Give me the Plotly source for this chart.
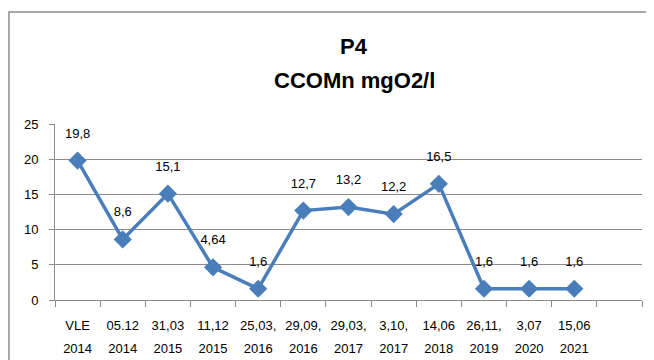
import plotly.graph_objects as go

# Sampling dates (two-line category labels) and CCOMn values, mgO2/l
date_top = ["VLE", "05.12", "31,03", "11,12", "25,03,", "29,09,", "29,03,",
            "3,10,", "14,06", "26,11,", "3,07", "15,06"]
date_year = ["2014", "2014", "2015", "2015", "2016", "2016", "2017",
             "2017", "2018", "2019", "2020", "2021"]
ccomn = [19.8, 8.6, 15.1, 4.64, 1.6, 12.7, 13.2, 12.2, 16.5, 1.6, 1.6, 1.6]
value_labels = ["19,8", "8,6", "15,1", "4,64", "1,6", "12,7", "13,2", "12,2",
                "16,5", "1,6", "1,6", "1,6"]
y_ticks = [0, 5, 10, 15, 20, 25]

BLUE = "#4A7EBB"
GRID = "#8C8C8C"
FONT = "Liberation Sans, Arial, sans-serif"

xs = list(range(len(date_top)))
# the page body has an 8px margin, so the figure is 16px smaller than the window
W, H = 646, 352


def _span(s, size=13):
    return f"<span style='font-size:{size}px'>{s}</span>"


ticktext = [_span(a) + "<br>" + _span(b) for a, b in zip(date_top, date_year)]

fig = go.Figure()
fig.add_scatter(
    x=xs,
    y=ccomn,
    mode="lines+markers",
    line=dict(color=BLUE, width=3.5),
    marker=dict(symbol="diamond", size=14, color=BLUE),
    showlegend=False,
    hoverinfo="skip",
)
# value labels: invisible wide markers push the text a little higher
fig.add_scatter(
    x=xs,
    y=ccomn,
    mode="markers+text",
    marker=dict(size=30, color="rgba(0,0,0,0)"),
    text=value_labels,
    textposition="top center",
    textfont=dict(family=FONT, size=13, color="#000000"),
    cliponaxis=False,
    showlegend=False,
)

fig.update_layout(
    width=W,
    height=H,
    margin=dict(l=47, r=12, t=116, b=60),
    paper_bgcolor="white",
    plot_bgcolor="white",
    font=dict(family=FONT, size=13, color="#000000"),
    annotations=[
        dict(text="<b>P4</b>", xref="paper", yref="paper", x=0.51, y=1.0,
             yshift=78, xanchor="center", yanchor="middle", showarrow=False,
             font=dict(family=FONT, size=22, color="#000000")),
        dict(text="<b>CCOMn mgO2/l</b>", xref="paper", yref="paper", x=0.51,
             y=1.0, yshift=44, xanchor="center", yanchor="middle",
             showarrow=False,
             font=dict(family=FONT, size=22, color="#000000")),
    ],
    shapes=[
        # outer chart frame (runs off the right and bottom edges)
        dict(type="rect", xref="paper", yref="paper",
             x0=-0.0784, x1=1.2, y0=-1.0, y1=1.636,
             line=dict(color="#8C8C8C", width=1.5)),
    ],
)

fig.update_xaxes(
    range=[-0.5, 12.5],
    tickvals=xs,
    ticktext=ticktext,
    ticks="",
    ticklabelstandoff=9,
    automargin=False,
    showgrid=False,
    showline=True,
    linecolor=GRID,
    linewidth=1,
    zeroline=False,
    tickfont=dict(family=FONT, size=17),
    minor=dict(tick0=0.5, dtick=1, ticks="outside", ticklen=6,
               tickcolor=GRID, showgrid=False),
)
fig.update_yaxes(
    range=[0, 25],
    tickvals=y_ticks,
    ticks="outside",
    ticklen=5,
    tickcolor=GRID,
    ticklabelstandoff=8,
    automargin=False,
    showgrid=True,
    gridcolor=GRID,
    gridwidth=1,
    showline=True,
    linecolor=GRID,
    linewidth=1,
    zeroline=False,
    tickfont=dict(family=FONT, size=13),
)

fig.write_html("out.html")
